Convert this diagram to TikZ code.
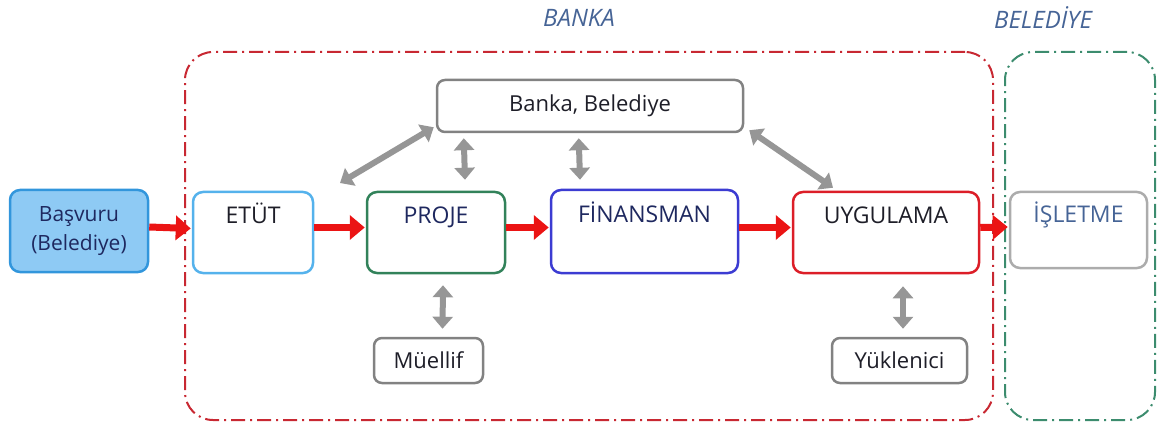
\documentclass[tikz,border=0pt]{standalone}
\usepackage{fontspec}
\setmainfont{Open Sans}
\usetikzlibrary{arrows.meta}
\definecolor{bfill}{RGB}{142,202,244}
\definecolor{bdraw}{RGB}{50,150,220}
\definecolor{etut}{RGB}{85,178,236}
\definecolor{proj}{RGB}{50,130,90}
\definecolor{fin}{RGB}{60,60,210}
\definecolor{uyg}{RGB}{220,30,40}
\definecolor{isl}{RGB}{172,172,172}
\definecolor{gbox}{RGB}{130,130,130}
\definecolor{garr}{RGB}{150,150,150}
\definecolor{rarr}{RGB}{235,20,20}
\definecolor{rdash}{RGB}{200,40,50}
\definecolor{gdash}{RGB}{60,140,110}
\definecolor{lab}{RGB}{70,100,150}
\definecolor{navy}{RGB}{30,40,95}
\definecolor{txt}{RGB}{30,30,40}
\begin{document}
\begin{tikzpicture}[x=1pt,y=-1pt,
  box/.style={draw, rounded corners=10pt, line width=2.5pt, inner sep=0pt, font=\fontsize{23}{29}\selectfont, text=txt},
  topbox/.style={box, text height=31pt, text depth=48pt},
  smallbox/.style={draw=gbox, rounded corners=8pt, line width=2.5pt, inner sep=0pt, font=\fontsize{22}{26}\selectfont, text=txt},
  container/.style={rounded corners=28pt, line width=2pt, dash pattern=on 14pt off 5pt on 2pt off 5pt},
  grouplabel/.style={text=lab, font=\fontsize{24}{26}\selectfont\itshape},
  redarrow/.style={draw=rarr, line width=7pt, -{Triangle[width=24pt,length=15pt]}},
  grayarrow/.style={draw=garr, line width=6pt, {Triangle[width=20pt,length=12pt]}-{Triangle[width=20pt,length=12pt]}}
]
\useasboundingbox (0,0) rectangle (1158,430);

% containers
\node[container, draw=rdash, minimum width=808pt, minimum height=368pt] (bankagrp) at (589,236) {};
\node[container, draw=gdash, minimum width=150pt, minimum height=368pt] (beledgrp) at (1080,236) {};
\node[grouplabel] (bankalab) at (579,18) {BANKA};
\node[grouplabel] (beledlab) at (1043,18) {BELEDİYE};

% main boxes
\node[box, draw=bdraw, fill=bfill, text=navy, align=center, font=\fontsize{21}{29}\selectfont, minimum width=138pt, minimum height=82pt] (bas) at (79,231) {Başvuru\\(Belediye)};
\node[topbox, draw=etut, minimum width=120pt, minimum height=81pt] (etut) at (253,232.5) {ETÜT};
\node[topbox, draw=proj, text=navy, minimum width=138pt, minimum height=81pt] (proje) at (436,232.5) {PROJE};
\node[topbox, draw=fin, text=navy, minimum width=187pt, minimum height=83pt] (finans) at (644.5,231.5) {FİNANSMAN};
\node[topbox, draw=uyg, minimum width=186pt, minimum height=81pt] (uyg) at (886,232.5) {UYGULAMA};
\node[box, draw=isl, text=lab, text height=30pt, text depth=44pt, minimum width=137pt, minimum height=76pt] (isl) at (1078.5,230) {İŞLETME};

% secondary boxes
\node[smallbox, minimum width=306pt, minimum height=52pt] (bb) at (590,106) {Banka, Belediye};
\node[smallbox, minimum width=109pt, minimum height=45pt] (mue) at (428.5,360.5) {Müellif};
\node[smallbox, minimum width=135pt, minimum height=45pt] (yuk) at (899.5,360.5) {Yüklenici};

% red flow arrows
\draw[redarrow] ([yshift=4pt]bas.east) -- ([yshift=4pt,xshift=-1pt]etut.west);
\draw[redarrow] ([yshift=5pt]etut.east) -- ([yshift=5pt,xshift=-1pt]proje.west);
\draw[redarrow] ([yshift=5pt]proje.east) -- ([yshift=4pt,xshift=-1pt]finans.west);
\draw[redarrow] ([yshift=4pt]finans.east) -- ([yshift=5pt,xshift=-1pt]uyg.west);
\draw[redarrow] ([yshift=5pt]uyg.east) -- ([yshift=3pt,xshift=-1pt]isl.west);

% gray double arrows
\coordinate (freeL) at (340,183);
\draw[grayarrow] ([xshift=-2pt,yshift=6pt]bb.south west) -- (freeL);
\draw[grayarrow] ([xshift=28pt,yshift=-5pt]bb.south west) -- ([xshift=29pt,yshift=11pt]proje.north);
\draw[grayarrow] ([xshift=143pt,yshift=-5pt]bb.south west) -- ([xshift=-64.5pt,yshift=9pt]finans.north);
\draw[grayarrow] ([xshift=5pt,yshift=3pt]bb.south east) -- ([xshift=-53pt,yshift=3pt]uyg.north);
\draw[grayarrow] ([xshift=7pt,yshift=-11pt]proje.south) -- ([xshift=14pt,yshift=8pt]mue.north);
\draw[grayarrow] ([xshift=17pt,yshift=-12pt]uyg.south) -- ([xshift=3.5pt,yshift=8pt]yuk.north);
\end{tikzpicture}
\end{document}
